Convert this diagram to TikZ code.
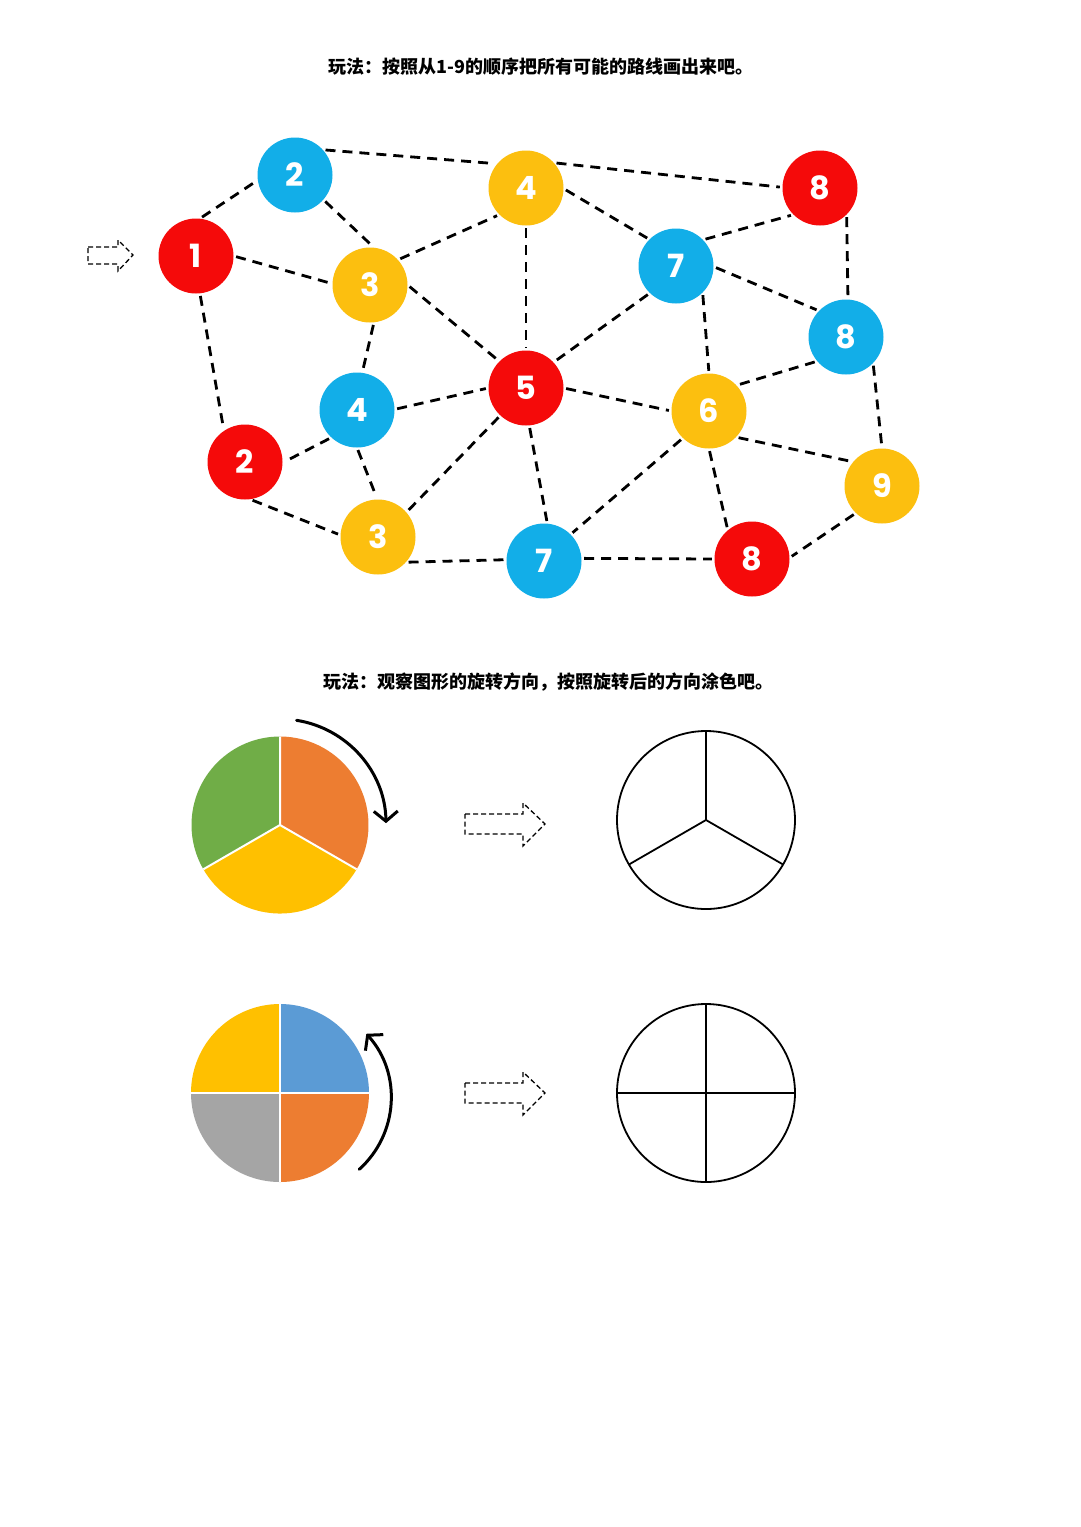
\documentclass[tikz,border=0pt]{standalone}
\usepackage{fontspec}
\newfontfamily\cjk{Noto Sans CJK SC}
\newfontfamily\numfont{Poppins}
\usetikzlibrary{arrows.meta}
\definecolor{nred}{HTML}{F50A0A}
\definecolor{nblue}{HTML}{12AEE8}
\definecolor{nyellow}{HTML}{FCBF0F}
\definecolor{pgreen}{HTML}{70AD47}
\definecolor{porange}{HTML}{ED7D31}
\definecolor{pyellow}{HTML}{FFC000}
\definecolor{pblue}{HTML}{5B9BD5}
\definecolor{pgray}{HTML}{A5A5A5}
\begin{document}
\begin{tikzpicture}[x=1pt,y=-1pt,
  numnode/.style={circle, minimum size=75pt, inner sep=0pt, text=white,
    font=\numfont\bfseries\fontsize{32}{32}\selectfont},
  rednode/.style={numnode, fill=nred},
  bluenode/.style={numnode, fill=nblue},
  yellownode/.style={numnode, fill=nyellow},
  link/.style={black, line width=2.8pt, dash pattern=on 10pt off 7pt,
    shorten <=2.5pt, shorten >=2.5pt},
  titletext/.style={font=\cjk\bfseries\fontsize{18}{22}\selectfont, inner sep=0pt},
  blockarrow/.style={black, line width=1.3pt, dash pattern=on 5pt off 3pt},
  outline/.style={black, line width=1.8pt},
  sep/.style={white, line width=2pt},
  turn/.style={black, line width=3pt, line cap=round}
]
\useasboundingbox[fill=white] (0,0) rectangle (1080,1527);

% titles
\node[titletext] (t1) at (541,67) {玩法：按照从1-9的顺序把所有可能的路线画出来吧。};
\node[titletext] (t2) at (548,682) {玩法：观察图形的旋转方向，按照旋转后的方向涂色吧。};

% start arrow
\draw[blockarrow] (88,247) -- (118,247) -- (118,240) -- (133,255) -- (118,271)
  -- (118,264) -- (88,264) -- cycle;

% nodes
\node[rednode]    (n1)  at (196,256) {1};
\node[bluenode]   (n2)  at (295,175) {2};
\node[yellownode] (n3)  at (370,285) {3};
\node[yellownode] (n4)  at (526,188) {4};
\node[rednode]    (n8a) at (820,188) {8};
\node[bluenode]   (n7)  at (676,266) {7};
\node[bluenode]   (n8b) at (846,337) {8};
\node[rednode]    (n5)  at (526,388) {5};
\node[bluenode]   (n4b) at (357,410) {4};
\node[rednode]    (n2b) at (245,462) {2};
\node[yellownode] (n3b) at (378,537) {3};
\node[bluenode]   (n7b) at (544,561) {7};
\node[yellownode] (n6)  at (709,411) {6};
\node[yellownode] (n9)  at (882,486) {9};
\node[rednode]    (n8c) at (752,559) {8};

% links
\draw[link] (n1.84)   -- (n2.188);
\draw[link] (n1.0)    -- (n3.178);
\draw[link] (n1.-84)  -- (n2b.124);
\draw[link] (n2.-41)  -- (n3.84);
\draw[link] (n2.42)   -- (n4.140);
\draw[link] (n4.42)   -- (n8a.179);
\draw[link] (n3.42)   -- (n4.225);
\draw[link] (n3.0)    -- (n5.135);
\draw[link] (n3.-84)  -- (n4b.82);
\draw[link] (n4.-90)  -- (n5.90);
\draw[link] (n4.-1)   -- (n7.135);
\draw[link] (n7.44)   -- (n8a.225);
\draw[link] (n7.-1)   -- (n8b.136);
\draw[link] (n7.226)  -- (n5.43);
\draw[link] (n7.-45)  -- (n6.90);
\draw[link] (n8a.-45) -- (n8b.87);
\draw[link] (n8b.220) -- (n6.43);
\draw[link] (n8b.-44) -- (n9.90);
\draw[link] (n4b.1)   -- (n5.180);
\draw[link] (n5.0)    -- (n6.180);
\draw[link] (n5.227)  -- (n3b.41);
\draw[link] (n5.-85)  -- (n7b.85);
\draw[link] (n4b.227) -- (n2b.-1);
\draw[link] (n4b.-90) -- (n3b.91);
\draw[link] (n2b.-82) -- (n3b.177);
\draw[link] (n3b.-42) -- (n7b.178);
\draw[link] (n6.226)  -- (n7b.45);
\draw[link] (n7b.4)   -- (n8c.180);
\draw[link] (n6.-90)  -- (n8c.130);
\draw[link] (n6.-44)  -- (n9.140);
\draw[link] (n9.226)  -- (n8c.2);

% pie 1 (three sectors)
\begin{scope}[shift={(280,825)}, y=1pt]
  \fill[pgreen] (0,0) -- (90:88.5) arc[start angle=90, end angle=210, radius=88.5] -- cycle;
  \fill[porange] (0,0) -- (-30:88.5) arc[start angle=-30, end angle=90, radius=88.5] -- cycle;
  \fill[pyellow] (0,0) -- (210:88.5) arc[start angle=210, end angle=330, radius=88.5] -- cycle;
  \draw[sep] (0,0) -- (90:88.5) (0,0) -- (210:88.5) (0,0) -- (330:88.5);
  \draw[turn, -{Straight Barb[length=10pt, width=24pt, line width=3pt]}]
    (81:106) arc[start angle=81, end angle=1, radius=106];
\end{scope}

% pie 2 (four quadrants)
\begin{scope}[shift={(280,1093)}, y=1pt]
  \fill[pblue] (0,0) -- (0:89) arc[start angle=0, end angle=90, radius=89] -- cycle;
  \fill[pyellow] (0,0) -- (90:89) arc[start angle=90, end angle=180, radius=89] -- cycle;
  \fill[pgray] (0,0) -- (180:89) arc[start angle=180, end angle=270, radius=89] -- cycle;
  \fill[porange] (0,0) -- (270:89) arc[start angle=270, end angle=360, radius=89] -- cycle;
  \draw[sep] (-89,0) -- (89,0) (0,-89) -- (0,89);
  \draw[turn, -{Straight Barb[length=10pt, width=24pt, line width=3pt]}]
    (15,-5) ++(-48:96) arc[start angle=-48, end angle=42, radius=96];
\end{scope}

% middle block arrows
\draw[blockarrow] (465,814) -- (523,814) -- (523,803) -- (545,824) -- (523,846)
  -- (523,834) -- (465,834) -- cycle;
\draw[blockarrow] (465,1083) -- (523,1083) -- (523,1072) -- (545,1093) -- (523,1115)
  -- (523,1103) -- (465,1103) -- cycle;

% empty circles to colour
\begin{scope}[shift={(706,820)}, y=1pt]
  \draw[outline] (0,0) circle[radius=89];
  \draw[outline] (0,0) -- (90:89) (0,0) -- (210:89) (0,0) -- (330:89);
\end{scope}
\begin{scope}[shift={(706,1093)}, y=1pt]
  \draw[outline] (0,0) circle[radius=89];
  \draw[outline] (-89,0) -- (89,0) (0,-89) -- (0,89);
\end{scope}
\end{tikzpicture}
\end{document}
